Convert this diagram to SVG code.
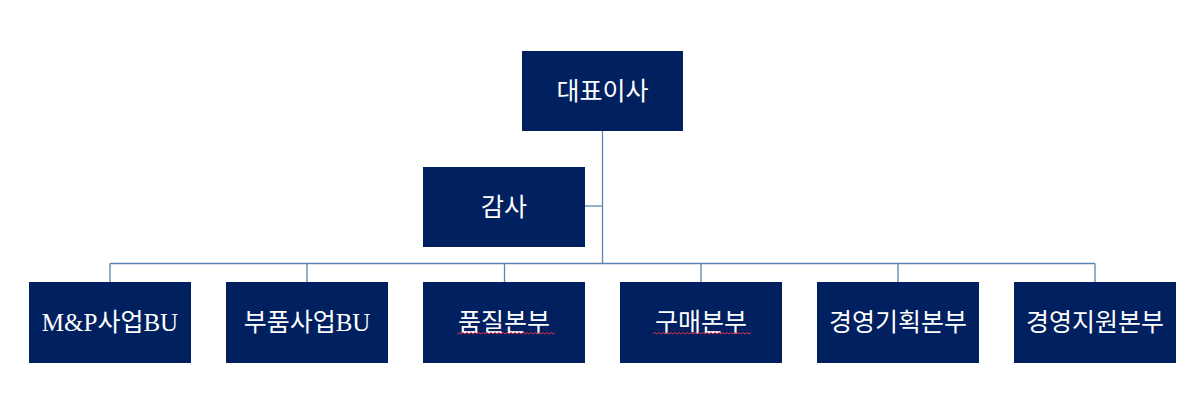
<svg xmlns="http://www.w3.org/2000/svg" width="1201" height="415" viewBox="0 0 1201 415">
<style>
.box{fill:#002060;}
.lbl{fill:#ffffff;font-family:"Liberation Serif","Noto Sans CJK KR",serif;font-size:25px;text-anchor:middle;}
.conn{stroke:#5b84b1;stroke-width:1.3;fill:none;}
.sq{stroke:#e0304a;stroke-width:1;fill:none;}
</style>
<rect width="1201" height="415" fill="#ffffff"/>
<g id="connectors">
<path class="conn" d="M602.5 131 V263.5"/>
<path class="conn" d="M585 206 H602.5"/>
<path class="conn" d="M110 263.5 H1095"/>
<path class="conn" d="M110 263.5 V282 M307 263.5 V282 M504.5 263.5 V282 M701 263.5 V282 M898 263.5 V282 M1095 263.5 V282"/>
</g>
<g id="ceo"><rect class="box" x="522" y="51" width="161" height="80"/><text class="lbl" x="602.5" y="100">대표이사</text></g>
<g id="audit"><rect class="box" x="423" y="167" width="162" height="80"/><text class="lbl" x="504" y="216">감사</text></g>
<g id="mp"><rect class="box" x="29" y="282" width="162" height="81"/><text class="lbl" x="110" y="331">M&amp;P사업BU</text></g>
<g id="parts"><rect class="box" x="226" y="282" width="162" height="81"/><text class="lbl" x="307" y="331">부품사업BU</text></g>
<g id="quality"><rect class="box" x="423" y="282" width="162" height="81"/><text class="lbl" x="504" y="331">품질본부</text>
<path class="sq" d="M457 334 l2 -1.5 l2 1.5 l2 -1.5 l2 1.5 l2 -1.5 l2 1.5 l2 -1.5 l2 1.5 l2 -1.5 l2 1.5 l2 -1.5 l2 1.5 l2 -1.5 l2 1.5 l2 -1.5 l2 1.5 l2 -1.5 l2 1.5 l2 -1.5 l2 1.5 l2 -1.5 l2 1.5 l2 -1.5 l2 1.5 l2 -1.5 l2 1.5 l2 -1.5 l2 1.5 l2 -1.5 l2 1.5 l2 -1.5 l2 1.5 l2 -1.5 l2 1.5 l2 -1.5 l2 1.5 l2 -1.5 l2 1.5 l2 -1.5 l2 1.5 l2 -1.5 l2 1.5 l2 -1.5 l2 1.5 l2 -1.5 l2 1.5 l2 -1.5 l2 1.5 l2 -1.5"/></g>
<g id="purchase"><rect class="box" x="620" y="282" width="162" height="81"/><text class="lbl" x="701" y="331">구매본부</text>
<path class="sq" d="M653 334 l2 -1.5 l2 1.5 l2 -1.5 l2 1.5 l2 -1.5 l2 1.5 l2 -1.5 l2 1.5 l2 -1.5 l2 1.5 l2 -1.5 l2 1.5 l2 -1.5 l2 1.5 l2 -1.5 l2 1.5 l2 -1.5 l2 1.5 l2 -1.5 l2 1.5 l2 -1.5 l2 1.5 l2 -1.5 l2 1.5 l2 -1.5 l2 1.5 l2 -1.5 l2 1.5 l2 -1.5 l2 1.5 l2 -1.5 l2 1.5 l2 -1.5 l2 1.5 l2 -1.5 l2 1.5 l2 -1.5 l2 1.5 l2 -1.5 l2 1.5 l2 -1.5 l2 1.5 l2 -1.5 l2 1.5 l2 -1.5 l2 1.5 l2 -1.5 l2 1.5 l2 -1.5"/></g>
<g id="planning"><rect class="box" x="817" y="282" width="162" height="81"/><text class="lbl" x="898" y="331">경영기획본부</text></g>
<g id="support"><rect class="box" x="1014" y="282" width="162" height="81"/><text class="lbl" x="1095" y="331">경영지원본부</text></g>
</svg>
